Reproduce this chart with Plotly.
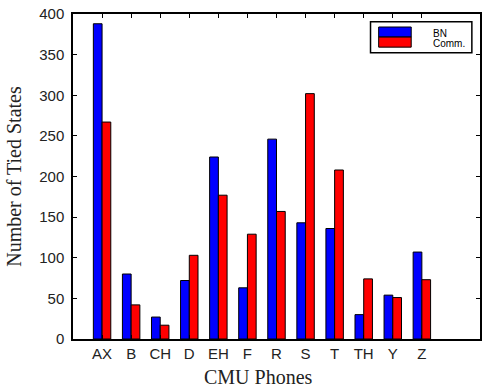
import plotly.graph_objects as go

phones = ["AX", "B", "CH", "D", "EH", "F", "R", "S", "T", "TH", "Y", "Z"]
bn_states = [388, 80, 27, 72, 224, 63, 246, 143, 136, 30, 54, 107]
comm_states = [267, 42, 17, 103, 177, 129, 157, 302, 208, 74, 51, 73]
y_ticks = [0, 50, 100, 150, 200, 250, 300, 350, 400]

fig = go.Figure()
fig.add_trace(go.Bar(x=phones, y=bn_states, name="BN",
                     marker=dict(color="#0000ff", line=dict(color="black", width=1))))
fig.add_trace(go.Bar(x=phones, y=comm_states, name="Comm.",
                     marker=dict(color="#ff0000", line=dict(color="black", width=1))))

fig.update_layout(
    width=483, height=388,
    margin=dict(l=73, r=1, t=14, b=49),
    paper_bgcolor="white", plot_bgcolor="white",
    barmode="group", bargap=0.4, bargroupgap=0,
    showlegend=False,
    font=dict(family="Liberation Sans, Arial, sans-serif", color="black"),
)
fig.update_xaxes(
    type="category", range=[-1, 13],
    showline=True, linecolor="black", linewidth=1.5, mirror="ticks",
    ticks="inside", ticklen=4, tickcolor="black", tickwidth=1,
    showgrid=False, zeroline=False,
    tickfont=dict(size=15, family="Liberation Sans, Arial, sans-serif", color="#222"),
)
fig.update_yaxes(
    range=[0, 400], tickvals=y_ticks,
    showline=True, linecolor="black", linewidth=1.5, mirror="ticks",
    ticks="inside", ticklen=4, tickcolor="black", tickwidth=1,
    showgrid=False, zeroline=False,
    ticklabelstandoff=4,
    tickfont=dict(size=15, family="Liberation Sans, Arial, sans-serif", color="#222"),
    title=dict(text="Number of Tied States", standoff=12,
               font=dict(size=20, family="Liberation Serif, Times New Roman, serif", color="#222")),
)

# x-axis title
fig.add_annotation(text="CMU Phones", xref="paper", yref="paper", x=0.455, y=-0.08,
                   xanchor="center", yanchor="top", showarrow=False, borderpad=0,
                   font=dict(size=20, family="Liberation Serif, Times New Roman, serif", color="#222"))

# custom legend box
fig.add_shape(type="rect", xref="paper", yref="paper", x0=0.731, x1=0.980, y0=0.881, y1=0.976,
              line=dict(color="black", width=1.5), fillcolor="white")
fig.add_shape(type="rect", xref="paper", yref="paper", x0=0.751, x1=0.831, y0=0.929, y1=0.960,
              line=dict(color="black", width=1), fillcolor="#0000ff")
fig.add_shape(type="rect", xref="paper", yref="paper", x0=0.751, x1=0.831, y0=0.898, y1=0.929,
              line=dict(color="black", width=1), fillcolor="#ff0000")
fig.add_annotation(text="BN", xref="paper", yref="paper", x=0.883, y=0.940,
                   xanchor="left", yanchor="middle", showarrow=False, borderpad=0,
                   font=dict(size=10, family="Liberation Sans, Arial, sans-serif", color="black"))
fig.add_annotation(text="Comm.", xref="paper", yref="paper", x=0.883, y=0.909,
                   xanchor="left", yanchor="middle", showarrow=False, borderpad=0,
                   font=dict(size=10, family="Liberation Sans, Arial, sans-serif", color="black"))

fig.write_html("out.html", config={"displayModeBar": False},
               post_script="document.body.style.margin='0';")
